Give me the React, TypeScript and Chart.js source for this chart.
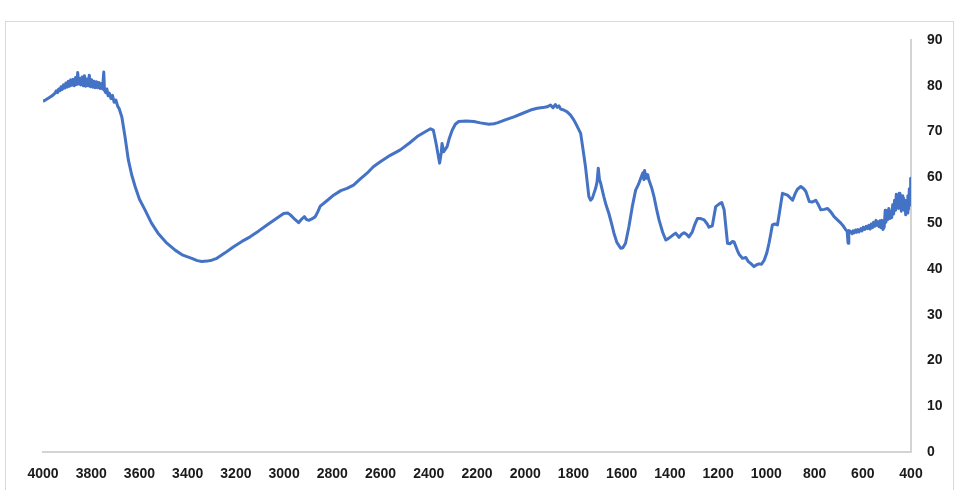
import React, { useEffect, useRef } from "react";
import { Chart, registerables } from "chart.js";

Chart.register(...registerables);

// Segment 1: 4000 – 3673 cm-1 (noisy plateau)
const wnHigh: number[] = [
  4000, 3990, 3975, 3960, 3950, 3945, 3940, 3935, 3930, 3925, 3920, 3915, 3910, 3905, 3900, 3895, 3890, 3885, 3880, 3875,
  3870, 3865, 3860, 3856, 3852, 3848, 3843, 3838, 3833, 3828, 3823, 3818, 3813, 3808, 3803, 3798, 3793, 3788, 3783, 3778,
  3773, 3768, 3763, 3758, 3753, 3748, 3745, 3740, 3735, 3730, 3725, 3718, 3712, 3705, 3698, 3690, 3684, 3678, 3673,
];
const tHigh: number[] = [
  76.6, 76.9, 77.4, 77.9, 78.4, 78.9, 78.5, 79.3, 78.9, 79.8, 79.2, 80.2, 79.5, 80.6, 79.7, 81.0, 79.9, 81.3, 80.1, 81.4,
  80.0, 81.8, 80.3, 82.9, 80.4, 81.6, 80.2, 81.9, 80.0, 82.2, 79.9, 81.5, 80.0, 82.3, 79.8, 81.3, 79.7, 81.0, 79.6, 80.9,
  79.6, 80.7, 79.4, 80.5, 79.3, 83.0, 79.0, 78.5, 79.3, 77.8, 78.4, 77.2, 77.9, 76.4, 76.9, 75.5, 75.0, 74.0, 73.2,
];

// Segment 2: 3660 – 658 cm-1
const wnMid: number[] = [
  3660, 3646, 3632, 3618, 3600, 3577, 3550, 3523, 3490, 3452, 3420, 3383, 3360, 3341, 3320, 3300, 3279, 3245, 3211, 3175,
  3141, 3105, 3071, 3035, 3002, 2985, 2974, 2955, 2940, 2925, 2916, 2908, 2898, 2885, 2871, 2860, 2850, 2820, 2795, 2765,
  2739, 2712, 2685, 2656, 2630, 2601, 2560, 2518, 2480, 2448, 2420, 2393, 2381, 2370, 2355, 2348, 2345, 2338, 2324, 2315,
  2303, 2290, 2276, 2245, 2213, 2186, 2151, 2130, 2116, 2080, 2047, 2010, 1978, 1950, 1920, 1909, 1895, 1885, 1875, 1867,
  1860, 1853, 1840, 1826, 1812, 1798, 1785, 1770, 1760, 1750, 1743, 1736, 1729, 1722, 1715, 1708, 1702, 1697, 1692, 1687,
  1674, 1665, 1653, 1640, 1632, 1620, 1604, 1595, 1584, 1570, 1556, 1542, 1530, 1521, 1512, 1508, 1505, 1498, 1492, 1487,
  1476, 1466, 1455, 1445, 1430, 1417, 1407, 1397, 1385, 1376, 1362, 1350, 1341, 1330, 1321, 1307, 1296, 1286, 1272, 1258,
  1245, 1238, 1224, 1210, 1195, 1185, 1175, 1161, 1150, 1140, 1134, 1120, 1113, 1099, 1085, 1075, 1065, 1051, 1040, 1030,
  1020, 1009, 998, 989, 982, 975, 965, 954, 945, 933, 912, 891, 880, 871, 857, 845, 836, 822, 810, 795,
  784, 774, 760, 746, 732, 719, 705, 691, 680, 670, 665, 661, 658,
];
const tMid: number[] = [
  68.9, 63.8, 60.5, 58.0, 55.2, 52.9, 50.0, 47.8, 45.8, 44.1, 43.0, 42.3, 41.8, 41.6, 41.7, 41.9, 42.3, 43.5, 44.8, 46.0,
  47.0, 48.3, 49.6, 50.9, 52.1, 52.2, 51.8, 50.8, 50.1, 51.0, 51.4, 50.8, 50.6, 50.9, 51.4, 52.5, 53.7, 55.0, 56.1, 57.1,
  57.6, 58.3, 59.6, 60.9, 62.3, 63.4, 64.8, 66.0, 67.5, 68.9, 69.8, 70.6, 70.3, 67.5, 63.1, 65.5, 67.4, 65.6, 66.7, 68.5,
  70.3, 71.6, 72.2, 72.3, 72.2, 71.9, 71.6, 71.7, 71.9, 72.6, 73.2, 74.0, 74.7, 75.1, 75.3, 75.4, 75.8, 75.2, 75.9, 75.3,
  75.6, 74.9, 74.7, 74.3, 73.6, 72.5, 71.2, 69.6, 66.0, 62.3, 59.0, 55.8, 55.0, 55.4, 56.5, 57.6, 59.0, 62.0, 59.5, 58.7,
  55.8, 54.0, 52.1, 49.5, 47.8, 45.8, 44.5, 44.6, 45.6, 49.2, 53.6, 57.2, 58.5, 59.8, 61.0, 59.5, 61.5, 59.8, 60.6, 59.4,
  57.8, 55.8, 53.0, 50.7, 48.0, 46.3, 46.6, 47.0, 47.5, 47.8, 46.9, 47.6, 47.9, 47.5, 47.0, 48.1, 49.8, 51.0, 51.0, 50.7,
  49.8, 49.1, 49.4, 53.6, 54.2, 54.5, 52.9, 45.6, 45.5, 46.0, 45.9, 44.0, 43.2, 42.3, 42.5, 41.6, 41.2, 40.5, 40.9, 41.1,
  41.0, 41.9, 43.5, 45.6, 47.5, 49.6, 49.8, 49.6, 52.5, 56.5, 56.1, 55.0, 56.5, 57.4, 58.0, 57.5, 56.9, 54.7, 54.6, 55.0,
  54.0, 52.9, 53.0, 53.2, 52.4, 51.4, 50.7, 50.0, 49.3, 48.5, 48.3, 45.6, 48.4,
];

// Segment 3: 649 – 400 cm-1 (noisy tail)
const wnLow: number[] = [
  649, 644, 640, 635, 630, 625, 620, 615, 608, 603, 598, 592, 586, 580, 575, 570, 565, 560, 555, 550,
  545, 540, 536, 532, 528, 524, 520, 516, 511, 507, 504, 500, 496, 492, 488, 484, 480, 476, 472, 468,
  464, 461, 458, 455, 452, 449, 446, 443, 440, 437, 434, 431, 428, 425, 422, 419, 416, 413, 410, 407,
  404, 402, 401, 400,
];
const tLow: number[] = [
  48.1, 47.7, 48.3, 47.9, 48.5, 48.0, 48.6, 48.1, 48.8, 48.3, 49.1, 48.6, 49.3, 48.8, 49.5, 48.7, 49.8, 49.0, 50.2, 49.3,
  50.6, 49.5, 50.3, 49.2, 50.5, 49.0, 50.6, 48.6, 49.2, 52.8, 50.2, 52.0, 50.8, 53.2, 51.0, 52.5, 51.2, 54.0, 52.0, 55.0,
  52.8, 56.3, 53.5, 55.8, 53.2, 56.5, 53.8, 55.2, 52.6, 56.0, 53.4, 55.5, 52.8, 54.6, 51.8, 55.0, 52.2, 56.0, 53.0, 57.5,
  54.0, 55.5, 59.8, 59.8,
];

const xTicks: number[] = [4000, 3800, 3600, 3400, 3200, 3000, 2800, 2600, 2400, 2200, 2000, 1800, 1600, 1400, 1200, 1000, 800, 600, 400];
const yTicks: number[] = [0, 10, 20, 30, 40, 50, 60, 70, 80, 90];

export default function App() {
  const canvasRef = useRef<HTMLCanvasElement | null>(null);

  useEffect(() => {
    const canvas = canvasRef.current;
    if (!canvas) return;
    const wavenumbers = [...wnHigh, ...wnMid, ...wnLow];
    const transmittance = [...tHigh, ...tMid, ...tLow];
    const points = wavenumbers.map((w, i) => ({ x: w, y: transmittance[i] }));
    const tickFont = { family: "'Liberation Sans', Arial, sans-serif", size: 14, weight: "bold" as const };
    const chart = new Chart(canvas, {
      type: "line",
      data: {
        datasets: [
          {
            data: points,
            borderColor: "#4472C4",
            borderWidth: 3,
            pointRadius: 0,
            tension: 0,
            fill: false,
            borderJoinStyle: "round",
          },
        ],
      },
      options: {
        animation: false,
        responsive: false,
        maintainAspectRatio: false,
        layout: { padding: { left: 43, top: 40, right: 0, bottom: 0 } },
        plugins: { legend: { display: false }, tooltip: { enabled: false } },
        scales: {
          x: {
            type: "linear",
            reverse: true,
            min: 400,
            max: 4000,
            afterBuildTicks: (scale: any) => {
              scale.ticks = xTicks.map((v) => ({ value: v }));
            },
            afterFit: (scale: any) => {
              scale.height = 38;
            },
            grid: { display: false, drawTicks: false },
            border: { display: true, color: "#d4d4d4", width: 2 },
            ticks: {
              font: tickFont,
              color: "#1a1a1a",
              padding: 14,
              maxRotation: 0,
              autoSkip: false,
              callback: (v: any) => String(v),
            },
          },
          y: {
            position: "right",
            min: 0,
            max: 90,
            afterBuildTicks: (scale: any) => {
              scale.ticks = yTicks.map((v) => ({ value: v }));
            },
            afterFit: (scale: any) => {
              scale.width = 48;
            },
            grid: { display: false, drawTicks: false },
            border: { display: true, color: "#d4d4d4", width: 2 },
            ticks: {
              font: tickFont,
              color: "#1a1a1a",
              padding: 16,
              callback: (v: any) => String(v),
            },
          },
        },
      },
    });
    return () => chart.destroy();
  }, []);

  return (
    <div style={{ position: "fixed", left: 0, top: 0, width: 959, height: 490, background: "#fff", overflow: "hidden" }}>
      <div
        style={{
          position: "absolute",
          left: 5,
          top: 21,
          width: 949,
          height: 480,
          border: "1px solid #d9d9d9",
          boxSizing: "border-box",
        }}
      />
      <canvas ref={canvasRef} width={959} height={490} style={{ position: "absolute", left: 0, top: 0 }} />
    </div>
  );
}
